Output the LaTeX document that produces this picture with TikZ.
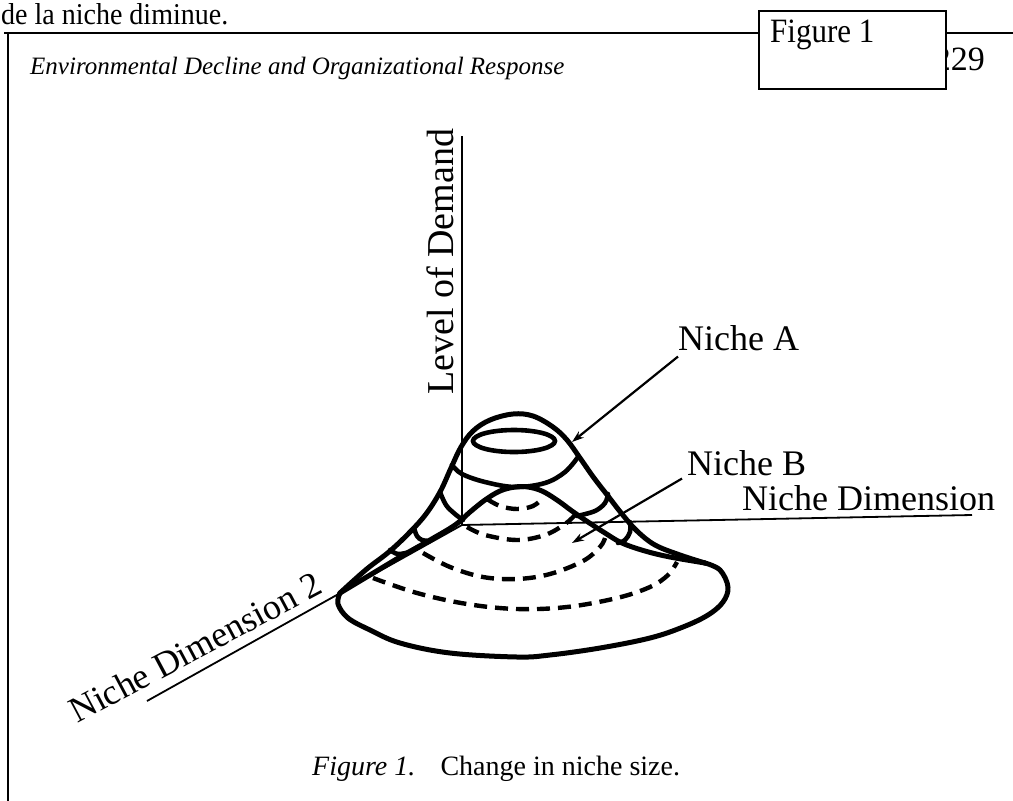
\documentclass[tikz,border=0pt]{standalone}
\usepackage{fontspec}
\setmainfont{Liberation Serif}
\usetikzlibrary{arrows.meta}
\begin{document}
\begin{tikzpicture}[x=1pt,y=-1pt,
  frame/.style={line width=2pt},
  axisline/.style={line width=1.8pt},
  outline/.style={line width=5pt, line cap=round, line join=round},
  ring/.style={line width=4.6pt, line cap=round},
  hidden/.style={line width=4.4pt, dash pattern=on 13pt off 8pt},
  pointer/.style={line width=2.2pt, -{Stealth[length=12pt,width=8pt]}},
  lbl/.style={inner sep=0pt, anchor=base west, font=\fontsize{36}{40}\selectfont}]
\useasboundingbox (0,0) rectangle (1013,801);

% running text and page frame
\node[inner sep=0pt, anchor=base west, font=\fontsize{28}{30}\selectfont] (prev) at (1,24)
  {\scalebox{1}[1.08]{de la niche diminue.}};
\draw[frame] (4,33) -- (1013,33);
\draw[frame] (8,33) -- (8,801);
\node[inner sep=0pt, anchor=base east, font=\fontsize{34}{36}\selectfont] (pg) at (985,70) {229};
\node[draw, fill=white, line width=2pt, minimum width=187pt, minimum height=78pt,
      anchor=north west, inner sep=0pt] (figbox) at (758,10) {};
\node[inner sep=0pt, anchor=base west, font=\fontsize{31}{34}\selectfont] (figlbl) at (770,42)
  {\scalebox{1}[1.1]{Figure 1}};
\node[inner sep=0pt, anchor=base west, font=\itshape\fontsize{25}{28}\selectfont] (hdr) at (30,74)
  {Environmental Decline and Organizational Response};

% axes
\coordinate (O) at (462,525);
\coordinate (ytop) at (462,136);
\coordinate (xend) at (972,515);
\coordinate (zend) at (147,701);
\draw[axisline] (ytop) -- (O) -- (xend);
\draw[axisline] (O) -- (zend);
\node[lbl, rotate=90, font=\fontsize{38}{40}\selectfont] (ylbl) at (453,395) {Level of Demand};
\node[lbl] (xlbl) at (742,510) {Niche Dimension};
\node[lbl, rotate=28] (zlbl) at (77,724) {Niche Dimension 2};

% Niche A: outer profile
\draw[outline] plot[smooth, tension=0.6] coordinates {
  (340,593) (352,582) (368,568) (390,551) (410,532) (426,514) (440,492) (451,468)
  (461,447) (473,431) (490,420) (513,414) (533,416) (553,427) (567,440) (580,458)
  (594,478) (608,496) (622,514) (637,531) (655,545) (680,555) (705,563)};
% Niche B: outer profile
\draw[outline] plot[smooth, tension=0.6] coordinates {
  (340,593) (370,575) (400,557) (430,540) (455,525) (470,512) (485,500) (500,491)
  (515,487) (528,487) (542,491) (557,500) (572,511) (588,522) (605,533) (622,543)
  (645,551) (670,557) (705,563)};
% common base
\draw[outline] plot[smooth, tension=0.6] coordinates {
  (705,563) (720,570) (728,587) (723,602) (708,615) (683,627) (650,638) (600,648)
  (550,655) (517,657) (450,653) (400,643) (370,630) (348,618) (338,604) (340,593)};

% Niche A: level rings
\draw[ring] (514,441) ellipse [x radius=41, y radius=11];
\draw[ring] plot[smooth, tension=0.6] coordinates {
  (452,465) (462,474) (485,482) (515,487) (545,483) (565,472) (578,457)};
\draw[ring] plot[smooth, tension=0.6] coordinates {(440,492) (446,505) (455,514) (463,520)};
\draw[ring] plot[smooth, tension=0.6] coordinates {(577,516) (595,511) (605,503) (608,494)};
\draw[ring] plot[smooth, tension=0.6] coordinates {(414,528) (417,536) (422,540) (430,541)};
\draw[ring] plot[smooth, tension=0.6] coordinates {(630,522) (630,532) (625,540) (618,543)};
\draw[ring] plot[smooth, tension=0.6] coordinates {(390,550) (398,554) (410,552)};

% Niche B: level rings
\draw[hidden] plot[smooth, tension=0.6] coordinates {
  (487,499) (500,506) (517,509) (533,506) (543,498)};
\draw[hidden] plot[smooth, tension=0.6] coordinates {
  (467,527) (485,535) (517,540) (545,535) (565,524) (575,515)};
\draw[hidden] plot[smooth, tension=0.6] coordinates {
  (423,553) (450,567) (483,577) (517,579) (550,574) (583,561) (600,547) (605,538)};
\draw[hidden] plot[smooth, tension=0.6] coordinates {
  (373,578) (417,593) (467,604) (517,609) (567,607) (617,598) (650,587) (668,575) (677,562)};

% niche labels and pointers
\node[lbl] (nA) at (678,350) {Niche A};
\node[lbl] (nB) at (687,475) {Niche B};
\coordinate (tipA) at (572,442);
\coordinate (tipB) at (572,543);
\draw[pointer] ([yshift=-6pt]nA.south west) -- (tipA);
\draw[pointer] ([xshift=-5pt,yshift=-3pt]nB.south west) -- (tipB);

% caption
\node[inner sep=0pt, anchor=base west, font=\fontsize{28}{30}\selectfont] (cap) at (312,775)
  {\textit{Figure 1.}\hspace{0.9em}Change in niche size.};
\end{tikzpicture}
\end{document}
